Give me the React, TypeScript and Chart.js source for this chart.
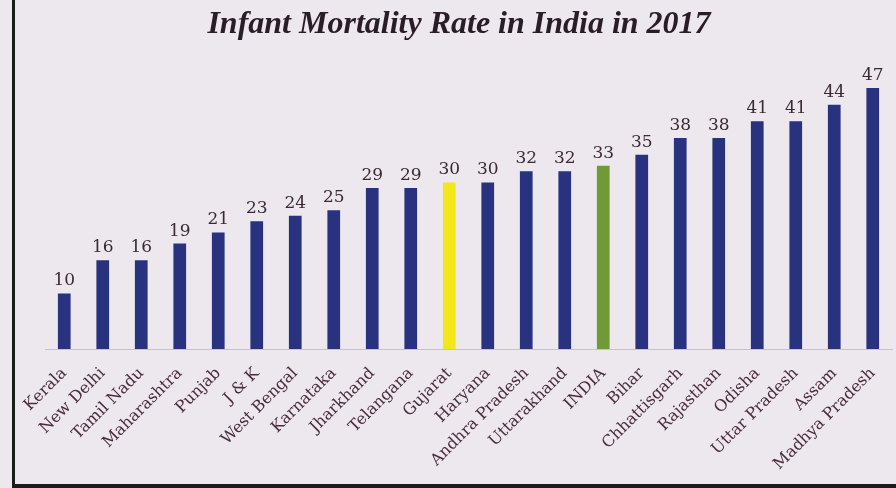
import { useEffect, useRef } from "react";
import { Chart, registerables } from "chart.js";

Chart.register(...registerables);

const chartTitle = "Infant Mortality Rate in India in 2017";

const states = [
  "Kerala",
  "New Delhi",
  "Tamil Nadu",
  "Maharashtra",
  "Punjab",
  "J & K",
  "West Bengal",
  "Karnataka",
  "Jharkhand",
  "Telangana",
  "Gujarat",
  "Haryana",
  "Andhra Pradesh",
  "Uttarakhand",
  "INDIA",
  "Bihar",
  "Chhattisgarh",
  "Rajasthan",
  "Odisha",
  "Uttar Pradesh",
  "Assam",
  "Madhya Pradesh",
];

const imrValues = [
  10, 16, 16, 19, 21, 23, 24, 25, 29, 29, 30, 30, 32, 32, 33, 35, 38, 38, 41, 41, 44, 47,
];

const highlightColors: Record<string, string> = {
  Gujarat: "#f2e71a",
  INDIA: "#6f9a36",
};
const defaultColor = "#29327f";

const valueLabelPlugin = {
  id: "valueLabels",
  afterDatasetsDraw(chart: any) {
    const ctx = chart.ctx;
    const meta = chart.getDatasetMeta(0);
    ctx.save();
    ctx.font = "17px 'DejaVu Serif'";
    ctx.fillStyle = "#3b2a33";
    ctx.textAlign = "center";
    ctx.textBaseline = "alphabetic";
    meta.data.forEach((bar: any, i: number) => {
      ctx.fillText(String(imrValues[i]), bar.x, bar.y - 8);
    });
    ctx.restore();
  },
};

export default function App() {
  const canvasRef = useRef<HTMLCanvasElement>(null);

  useEffect(() => {
    document.body.style.margin = "0";
    const canvas = canvasRef.current;
    if (!canvas) return;
    const chart = new Chart(canvas, {
      type: "bar",
      data: {
        labels: states,
        datasets: [
          {
            data: imrValues,
            backgroundColor: states.map((s) => highlightColors[s] ?? defaultColor),
            barPercentage: 0.33,
            categoryPercentage: 1,
          },
        ],
      },
      options: {
        animation: false,
        responsive: false,
        devicePixelRatio: 1,
        layout: {
          autoPadding: false,
          padding: { left: 26, right: 4, top: 0, bottom: 0 },
        },
        plugins: {
          legend: { display: false },
          tooltip: { enabled: false },
          title: {
            display: true,
            text: chartTitle,
            color: "#2a1d27",
            font: { family: "'Liberation Serif'", size: 32, style: "italic", weight: "bold", lineHeight: 1.2 },
            padding: { top: 6, bottom: 27 },
          },
        },
        scales: {
          x: {
            offset: true,
            grid: { display: false, drawTicks: false },
            border: { display: true, color: "#c9c1c9", width: 1 },
            ticks: {
              color: "#4a2b3c",
              font: { family: "'DejaVu Serif'", size: 16 },
              minRotation: 45,
              maxRotation: 45,
              autoSkip: false,
              padding: 15,
            },
            afterFit(scale: any) {
              scale.height = 139;
              scale.paddingLeft = 0;
              scale.paddingRight = 0;
            },
          },
          y: {
            display: true,
            min: 0,
            max: 50,
            grid: { display: false, drawTicks: false },
            border: { display: false },
            ticks: { display: false },
            afterFit(scale: any) {
              scale.width = 19;
            },
          },
        },
      },
      plugins: [valueLabelPlugin],
    });
    return () => chart.destroy();
  }, []);

  return (
    <div
      style={{
        position: "relative",
        width: 896,
        height: 488,
        background: "#ece8ed",
        overflow: "hidden",
      }}
    >
      <canvas ref={canvasRef} width={896} height={488} style={{ display: "block" }} />
      <div
        style={{
          position: "absolute",
          left: 12,
          top: 0,
          right: 0,
          bottom: 0,
          borderLeft: "3px solid #1c1c1c",
          borderBottom: "4px solid #1c1c1c",
          pointerEvents: "none",
        }}
      />
    </div>
  );
}
